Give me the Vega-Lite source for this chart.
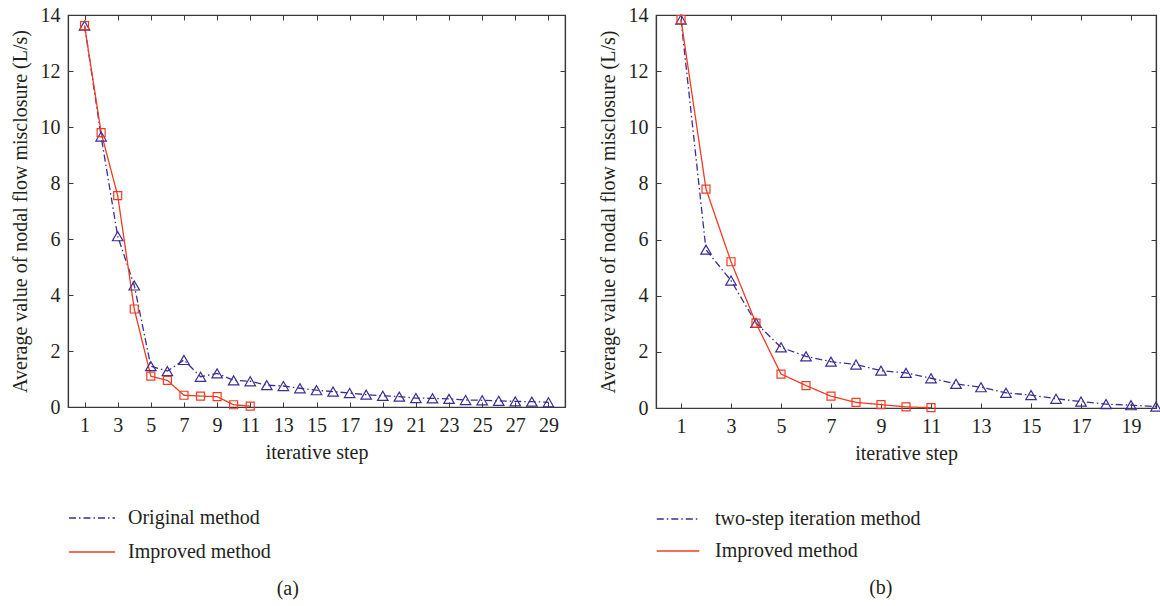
{
  "$schema": "https://vega.github.io/schema/vega-lite/v6.json",
  "background": "white",
  "padding": {"left": 9, "top": 4, "right": 2, "bottom": 5},
  "spacing": 30,
  "config": {
    "font": "Liberation Serif",
    "view": {"stroke": "#3a3a3a", "strokeWidth": 1.2},
    "axis": {
      "labelFont": "Liberation Serif", "titleFont": "Liberation Serif",
      "labelFontSize": 20, "titleFontSize": 20, "titleFontWeight": "normal",
      "labelColor": "#231f20", "titleColor": "#231f20",
      "domainColor": "#3a3a3a", "tickColor": "#3a3a3a", "domainWidth": 1.2, "tickWidth": 1,
      "grid": false, "tickSize": -5, "labelPadding": 13
    },
    "axisX": {"titlePadding": 7},
    "axisY": {"titlePadding": 10},
    "legend": {
      "orient": "none", "legendX": 0, "title": null, "direction": "vertical",
      "symbolType": "stroke", "symbolStrokeWidth": 1.4,
      "labelFont": "Liberation Serif", "labelFontSize": 20, "labelColor": "#231f20",
      "labelLimit": 500
    },
    "title": {"font": "Liberation Serif", "fontSize": 20, "fontWeight": "normal", "color": "#231f20", "offset": 17}
  },
  "datasets": {
    "a": [
      {"method": "Original method", "step": 1, "value": 13.62},
      {"method": "Original method", "step": 2, "value": 9.66},
      {"method": "Original method", "step": 3, "value": 6.1},
      {"method": "Original method", "step": 4, "value": 4.34},
      {"method": "Original method", "step": 5, "value": 1.46},
      {"method": "Original method", "step": 6, "value": 1.28},
      {"method": "Original method", "step": 7, "value": 1.68},
      {"method": "Original method", "step": 8, "value": 1.08},
      {"method": "Original method", "step": 9, "value": 1.2},
      {"method": "Original method", "step": 10, "value": 0.95},
      {"method": "Original method", "step": 11, "value": 0.92},
      {"method": "Original method", "step": 12, "value": 0.78},
      {"method": "Original method", "step": 13, "value": 0.75},
      {"method": "Original method", "step": 14, "value": 0.67},
      {"method": "Original method", "step": 15, "value": 0.6},
      {"method": "Original method", "step": 16, "value": 0.55},
      {"method": "Original method", "step": 17, "value": 0.5},
      {"method": "Original method", "step": 18, "value": 0.44},
      {"method": "Original method", "step": 19, "value": 0.4},
      {"method": "Original method", "step": 20, "value": 0.37},
      {"method": "Original method", "step": 21, "value": 0.32},
      {"method": "Original method", "step": 22, "value": 0.31},
      {"method": "Original method", "step": 23, "value": 0.29},
      {"method": "Original method", "step": 24, "value": 0.25},
      {"method": "Original method", "step": 25, "value": 0.24},
      {"method": "Original method", "step": 26, "value": 0.22},
      {"method": "Original method", "step": 27, "value": 0.2},
      {"method": "Original method", "step": 28, "value": 0.19},
      {"method": "Original method", "step": 29, "value": 0.17},
      {"method": "Improved method", "step": 1, "value": 13.62},
      {"method": "Improved method", "step": 2, "value": 9.8},
      {"method": "Improved method", "step": 3, "value": 7.55},
      {"method": "Improved method", "step": 4, "value": 3.5},
      {"method": "Improved method", "step": 5, "value": 1.1},
      {"method": "Improved method", "step": 6, "value": 0.95},
      {"method": "Improved method", "step": 7, "value": 0.42},
      {"method": "Improved method", "step": 8, "value": 0.39},
      {"method": "Improved method", "step": 9, "value": 0.37},
      {"method": "Improved method", "step": 10, "value": 0.08},
      {"method": "Improved method", "step": 11, "value": 0.03}
    ],
    "b": [
      {"method": "two-step iteration method", "step": 1, "value": 13.84},
      {"method": "two-step iteration method", "step": 2, "value": 5.64},
      {"method": "two-step iteration method", "step": 3, "value": 4.54},
      {"method": "two-step iteration method", "step": 4, "value": 3.03},
      {"method": "two-step iteration method", "step": 5, "value": 2.16},
      {"method": "two-step iteration method", "step": 6, "value": 1.84},
      {"method": "two-step iteration method", "step": 7, "value": 1.65},
      {"method": "two-step iteration method", "step": 8, "value": 1.55},
      {"method": "two-step iteration method", "step": 9, "value": 1.33},
      {"method": "two-step iteration method", "step": 10, "value": 1.25},
      {"method": "two-step iteration method", "step": 11, "value": 1.06},
      {"method": "two-step iteration method", "step": 12, "value": 0.86},
      {"method": "two-step iteration method", "step": 13, "value": 0.74},
      {"method": "two-step iteration method", "step": 14, "value": 0.54},
      {"method": "two-step iteration method", "step": 15, "value": 0.46},
      {"method": "two-step iteration method", "step": 16, "value": 0.33},
      {"method": "two-step iteration method", "step": 17, "value": 0.23},
      {"method": "two-step iteration method", "step": 18, "value": 0.14},
      {"method": "two-step iteration method", "step": 19, "value": 0.1},
      {"method": "two-step iteration method", "step": 20, "value": 0.05},
      {"method": "Improved method", "step": 1, "value": 13.84},
      {"method": "Improved method", "step": 2, "value": 7.8},
      {"method": "Improved method", "step": 3, "value": 5.21},
      {"method": "Improved method", "step": 4, "value": 3.02},
      {"method": "Improved method", "step": 5, "value": 1.21},
      {"method": "Improved method", "step": 6, "value": 0.8},
      {"method": "Improved method", "step": 7, "value": 0.42},
      {"method": "Improved method", "step": 8, "value": 0.2},
      {"method": "Improved method", "step": 9, "value": 0.12},
      {"method": "Improved method", "step": 10, "value": 0.04},
      {"method": "Improved method", "step": 11, "value": 0.01}
    ]
  },
  "hconcat": [
    {
      "width": 497, "height": 392,
      "data": {"name": "a"},
      "title": {"text": "(a)", "orient": "bottom", "anchor": "middle", "frame": "bounds"},
      "layer": [
        {
          "mark": {"type": "line", "strokeWidth": 1.3},
          "encoding": {
            "x": {"field": "step", "type": "quantitative", "scale": {"domain": [0, 30], "nice": false},
                  "axis": {"orient": "bottom", "values": [1,3,5,7,9,11,13,15,17,19,21,23,25,27,29], "title": "iterative step"}},
            "y": {"field": "value", "type": "quantitative", "scale": {"domain": [0, 14], "nice": false},
                  "axis": {"orient": "left", "values": [0,2,4,6,8,10,12,14], "title": "Average value of nodal flow misclosure (L/s)"}},
            "color": {"field": "method", "type": "nominal",
                      "scale": {"domain": ["Original method", "Improved method"], "range": ["#3b2d96", "#ee3d24"]},
                      "legend": {"symbolSize": 2116, "labelOffset": 12, "legendY": 479, "rowPadding": -14}},
            "strokeDash": {"field": "method", "type": "nominal",
                      "scale": {"domain": ["Original method", "Improved method"], "range": [[7, 3, 1.5, 3], [1, 0]]},
                      "legend": {"symbolSize": 2116, "labelOffset": 12, "legendY": 479, "rowPadding": -14}}
          }
        },
        {
          "transform": [{"filter": "datum.method === 'Original method'"}],
          "mark": {"type": "point", "shape": "triangle-up", "filled": false, "size": 110, "strokeWidth": 1.2, "opacity": 1, "color": "#3b2d96"},
          "encoding": {
            "x": {"field": "step", "type": "quantitative",
                  "axis": {"orient": "top", "values": [1,3,5,7,9,11,13,15,17,19,21,23,25,27,29], "labels": false, "title": null}},
            "y": {"field": "value", "type": "quantitative",
                  "axis": {"orient": "right", "values": [0,2,4,6,8,10,12,14], "labels": false, "title": null}}
          }
        },
        {
          "transform": [{"filter": "datum.method === 'Improved method'"}],
          "mark": {"type": "point", "shape": "square", "filled": false, "size": 64, "strokeWidth": 1.2, "opacity": 1, "color": "#ee3d24"},
          "encoding": {
            "x": {"field": "step", "type": "quantitative", "axis": null},
            "y": {"field": "value", "type": "quantitative", "axis": null}
          }
        }
      ]
    },
    {
      "width": 500, "height": 393,
      "data": {"name": "b"},
      "title": {"text": "(b)", "orient": "bottom", "anchor": "middle", "frame": "bounds"},
      "layer": [
        {
          "mark": {"type": "line", "strokeWidth": 1.3},
          "encoding": {
            "x": {"field": "step", "type": "quantitative", "scale": {"domain": [0, 20], "nice": false},
                  "axis": {"orient": "bottom", "values": [1,3,5,7,9,11,13,15,17,19], "title": "iterative step"}},
            "y": {"field": "value", "type": "quantitative", "scale": {"domain": [0, 14], "nice": false},
                  "axis": {"orient": "left", "values": [0,2,4,6,8,10,12,14], "title": "Average value of nodal flow misclosure (L/s)"}},
            "color": {"field": "method", "type": "nominal",
                      "scale": {"domain": ["two-step iteration method", "Improved method"], "range": ["#3b2d96", "#ee3d24"]},
                      "legend": {"symbolSize": 1800, "labelOffset": 15, "legendY": 482, "rowPadding": -10}},
            "strokeDash": {"field": "method", "type": "nominal",
                      "scale": {"domain": ["two-step iteration method", "Improved method"], "range": [[7, 3, 1.5, 3], [1, 0]]},
                      "legend": {"symbolSize": 1800, "labelOffset": 15, "legendY": 482, "rowPadding": -10}}
          }
        },
        {
          "transform": [{"filter": "datum.method === 'two-step iteration method'"}],
          "mark": {"type": "point", "shape": "triangle-up", "filled": false, "size": 110, "strokeWidth": 1.2, "opacity": 1, "color": "#3b2d96"},
          "encoding": {
            "x": {"field": "step", "type": "quantitative",
                  "axis": {"orient": "top", "values": [1,3,5,7,9,11,13,15,17,19], "labels": false, "title": null}},
            "y": {"field": "value", "type": "quantitative",
                  "axis": {"orient": "right", "values": [0,2,4,6,8,10,12,14], "labels": false, "title": null}}
          }
        },
        {
          "transform": [{"filter": "datum.method === 'Improved method'"}],
          "mark": {"type": "point", "shape": "square", "filled": false, "size": 64, "strokeWidth": 1.2, "opacity": 1, "color": "#ee3d24"},
          "encoding": {
            "x": {"field": "step", "type": "quantitative", "axis": null},
            "y": {"field": "value", "type": "quantitative", "axis": null}
          }
        }
      ]
    }
  ],
  "resolve": {"scale": {"color": "independent", "strokeDash": "independent"}}
}
